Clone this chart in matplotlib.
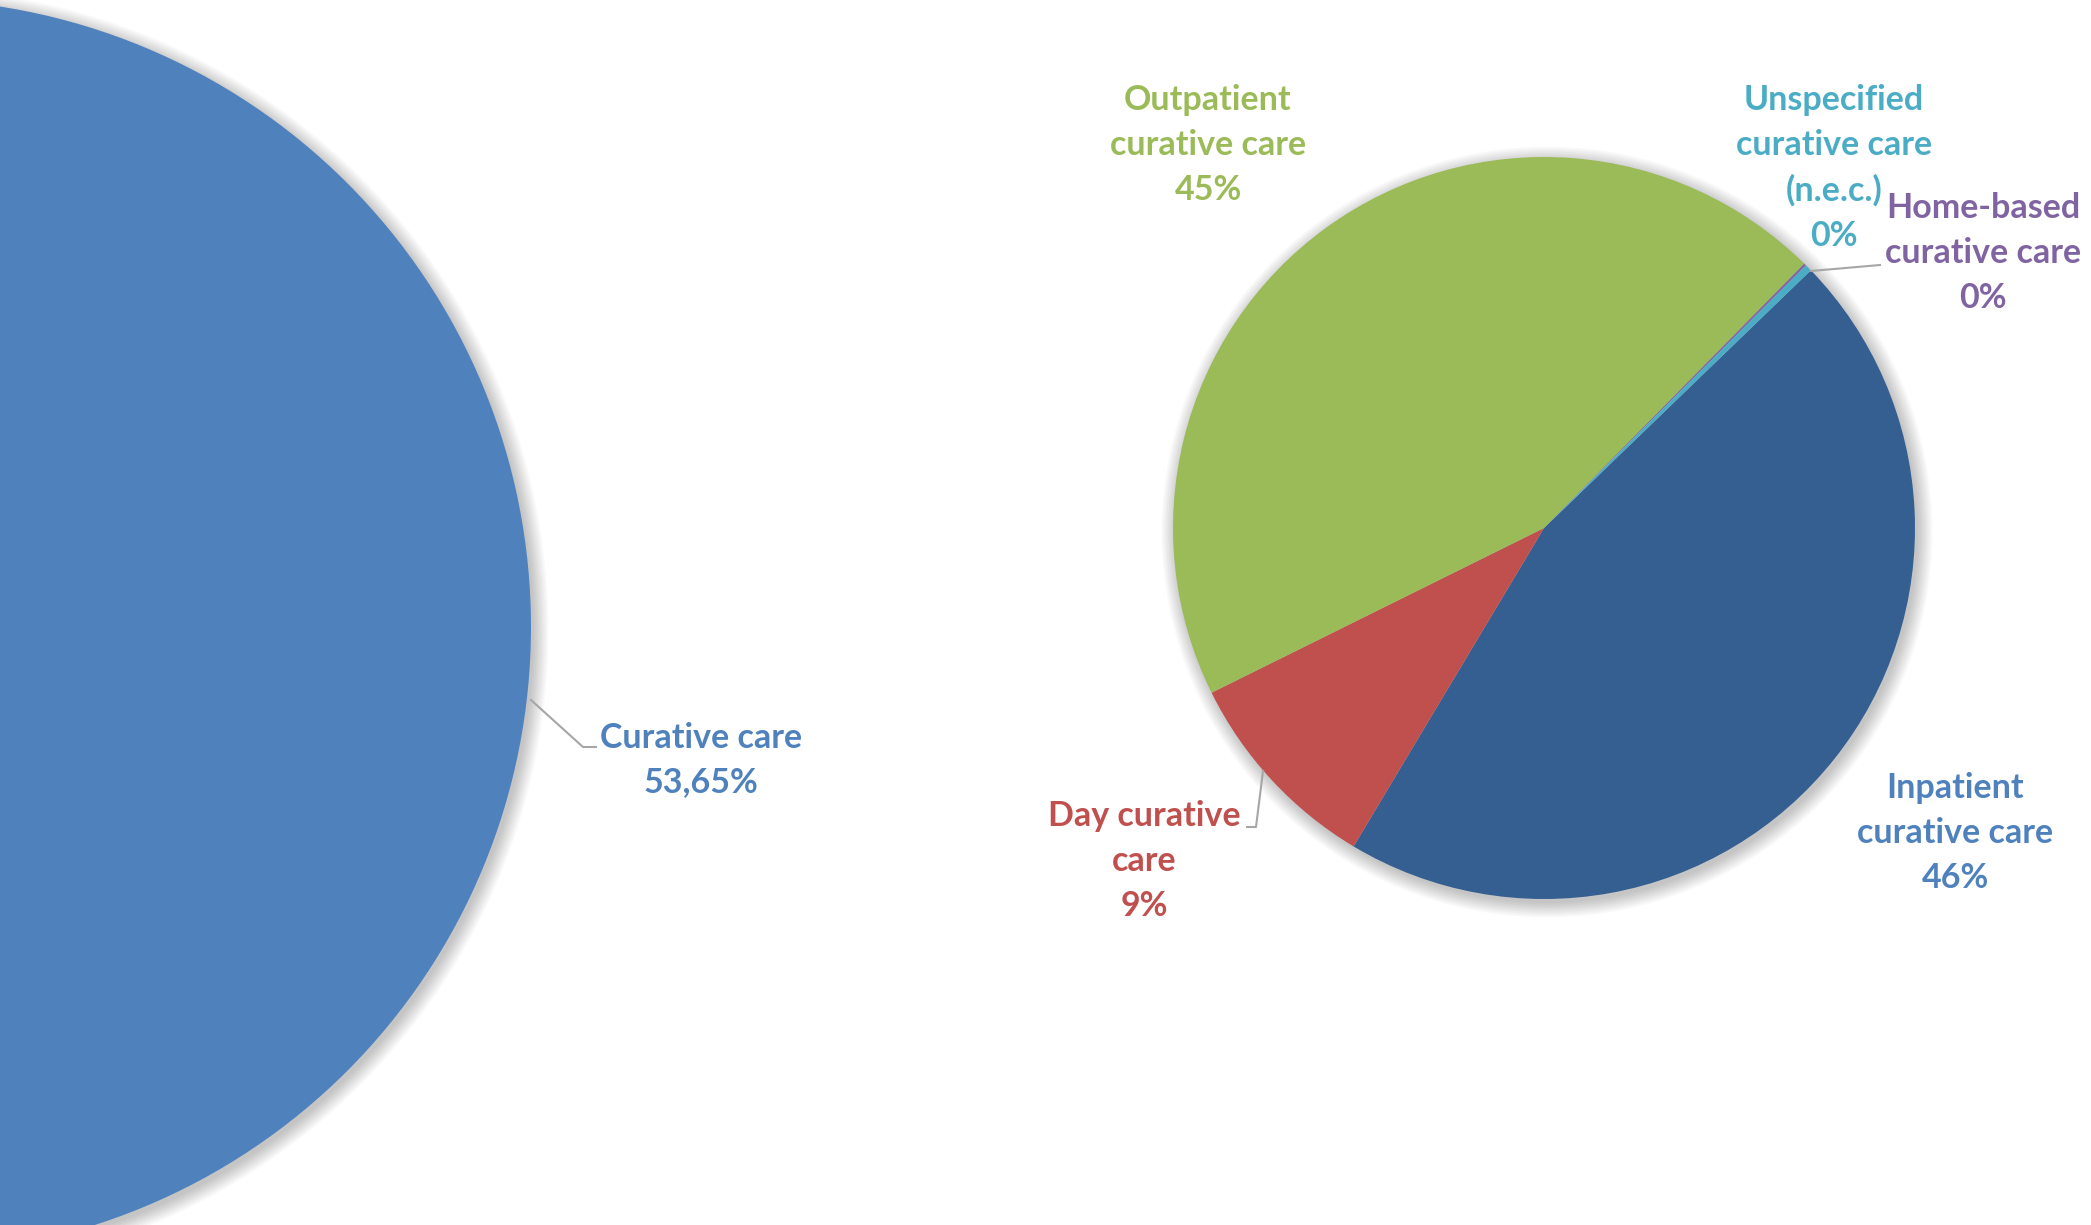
import matplotlib
matplotlib.use("Agg")
from matplotlib import pyplot as plt
from matplotlib.patches import Circle

W, H = 2091, 1225

# left pie: share of curative care
main_label = "Curative care"
main_share = 53.65

# right pie: breakdown of curative care (clockwise order)
parts = [
    "Inpatient\ncurative care",
    "Day curative\ncare",
    "Outpatient\ncurative care",
    "Home-based\ncurative care",
    "Unspecified\ncurative care\n(n.e.c.)",
]
part_values = [45.8, 9.1, 44.7, 0.1, 0.3]
part_colors = ["#355F91", "#C0504D", "#9BBB59", "#8064A2", "#4BACC6"]
label_colors = ["#4F81BD", "#C0504D", "#9BBB59", "#8064A2", "#4BACC6"]
# label centres (px from top-left)
label_pos = [(1955, 833), (1144, 861), (1208, 145), (1983, 253), (1834, 168)]

FONT = ["Lato", "DejaVu Sans"]
FS = 24.5
LS = 1.5


def py(y):
    return H - y


fig = plt.figure(figsize=(W / 100, H / 100), dpi=100)
ax = fig.add_axes([0, 0, 1, 1])


def shadow(cx, cy, r):
    for i in range(10):
        ax.add_patch(Circle((cx + 3, py(cy) - 4), r + i * 1.6, color="black",
                            alpha=0.025, lw=0, zorder=0))


# big circle
cx1, cy1, r1 = -97, 627, 628
shadow(cx1, cy1, r1)
ax.pie([main_share], colors=["#4F81BD"], center=(cx1, py(cy1)), radius=r1,
       wedgeprops=dict(linewidth=0), frame=True)
ax.text(701, py(760), f"{main_label}\n{main_share:.2f}%".replace(".", ","),
        ha="center", va="center", fontsize=FS, fontweight="bold",
        color="#4F81BD", family=FONT, linespacing=LS)
ax.plot([531, 583, 596], [py(700), py(747), py(747)], color="#A6A6A6", lw=1.5)

# breakdown pie
cx2, cy2, r2 = 1544, 528, 371
shadow(cx2, cy2, r2)
ax.pie(part_values, colors=part_colors, center=(cx2, py(cy2)), radius=r2,
       startangle=44, counterclock=False,
       wedgeprops=dict(linewidth=0), frame=True)
total = sum(part_values)
for name, v, c, (lx, ly) in zip(parts, part_values, label_colors, label_pos):
    ax.text(lx, py(ly), f"{name}\n{round(v / total * 100):.0f}%",
            ha="center", va="center", fontsize=FS, fontweight="bold",
            color=c, family=FONT, linespacing=LS)

# leader lines
ax.plot([1263, 1256, 1247], [py(771), py(827), py(827)], color="#A6A6A6", lw=1.5)
ax.plot([1811, 1880], [py(271), py(265)], color="#A6A6A6", lw=1.5)

ax.set_xlim(0, W)
ax.set_ylim(0, H)
ax.set_aspect("equal")
ax.axis("off")
fig.savefig("out.png", dpi=100, facecolor="white")
